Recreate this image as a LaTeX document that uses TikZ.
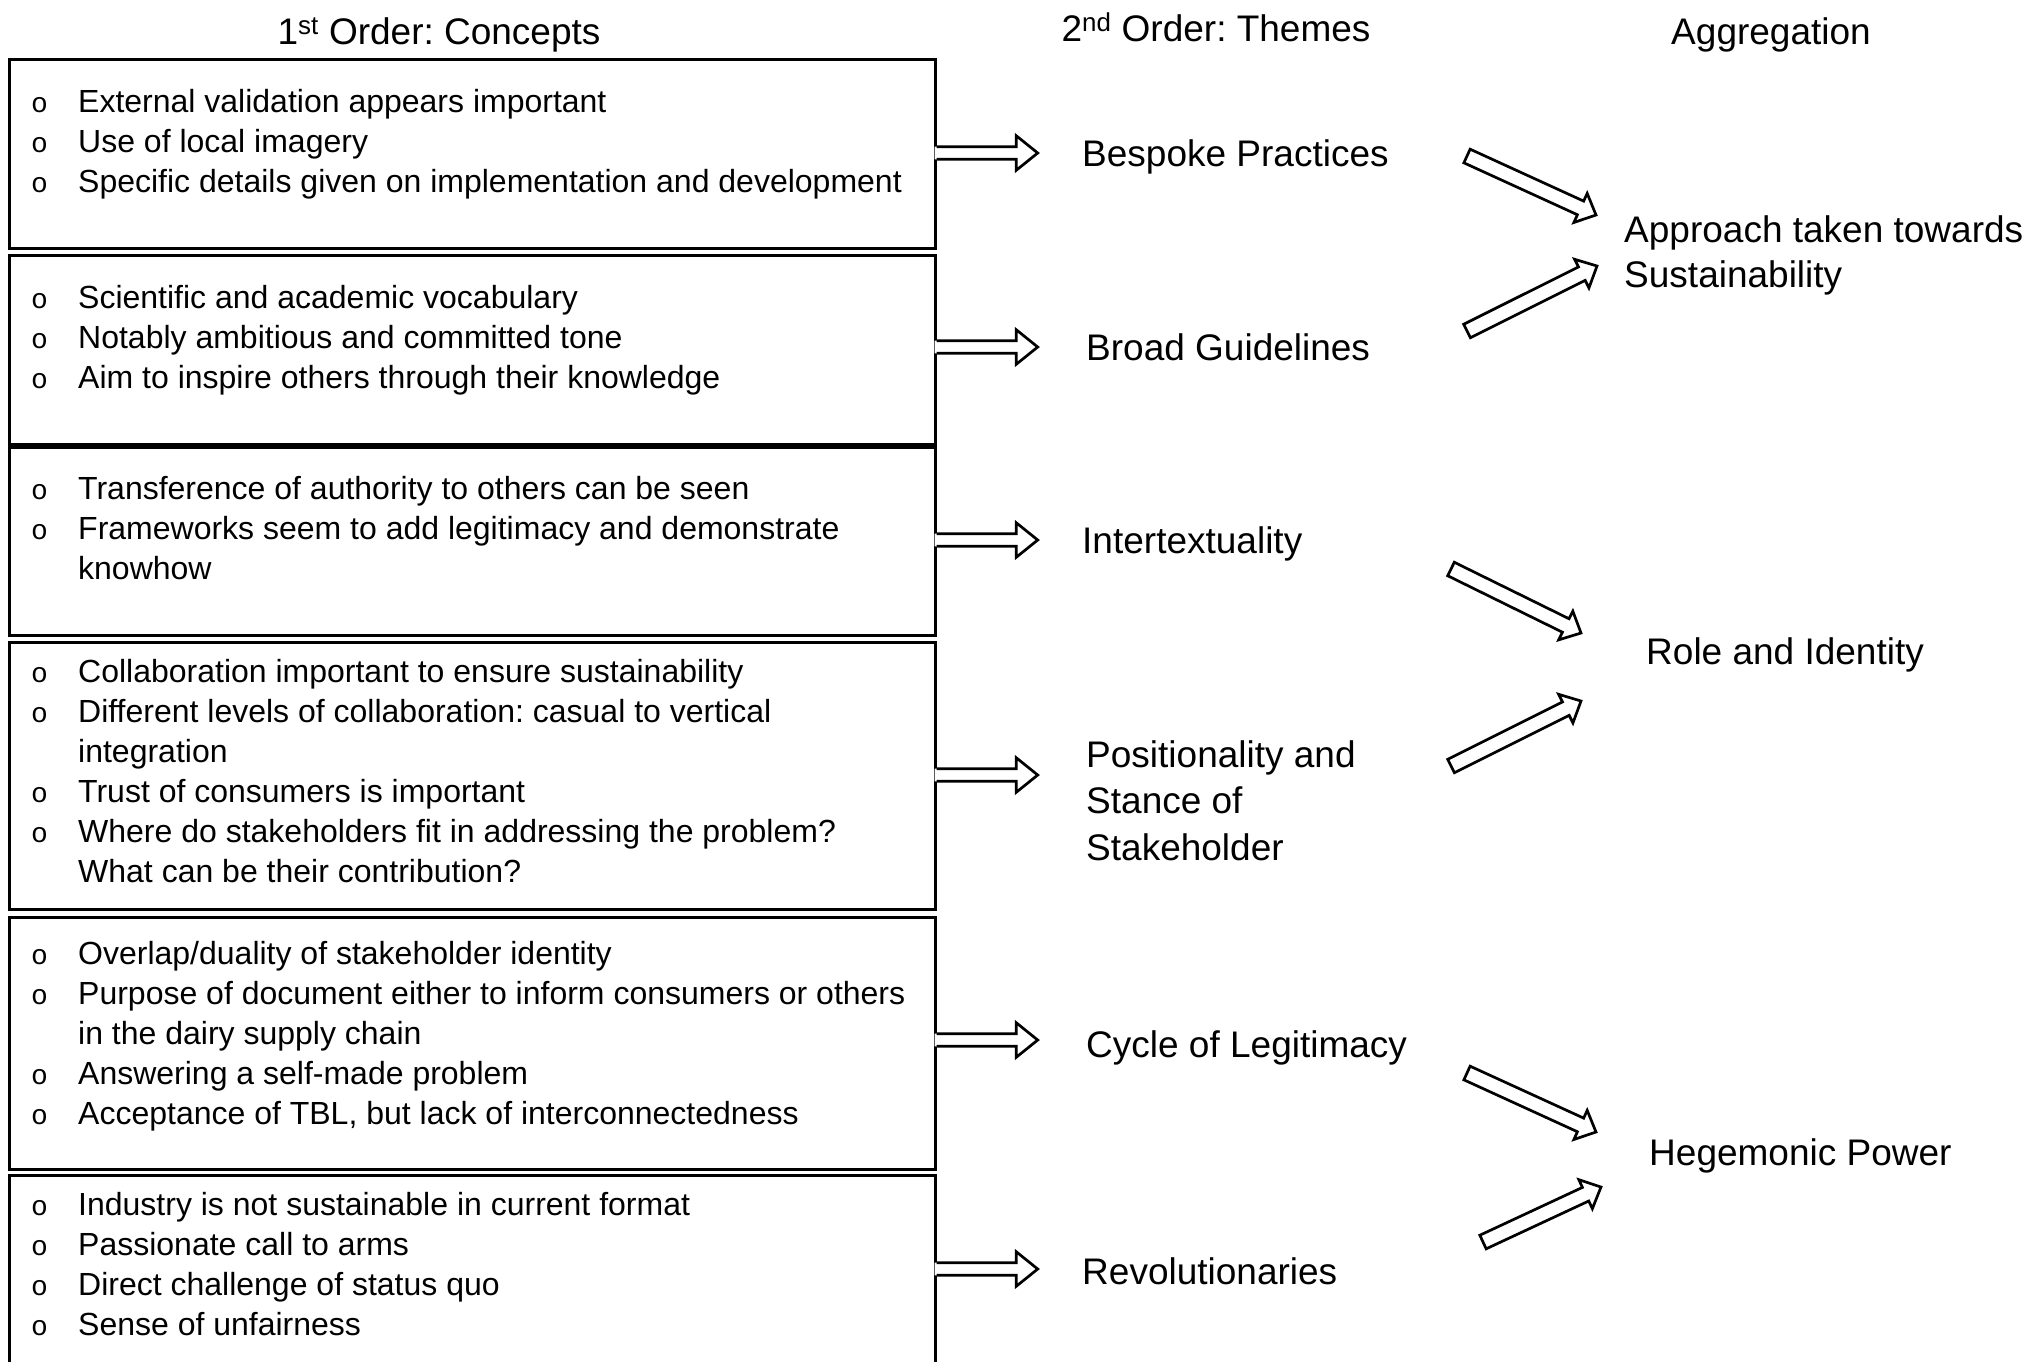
\documentclass[tikz,border=0pt]{standalone}
\usepackage{fontspec}
\setmainfont{Liberation Sans}
\newfontfamily\bulletfont{Liberation Mono}
\usetikzlibrary{calc}
\frenchspacing

% list markers: hollow bullet and continuation indent
\newcommand\bul{\makebox[48.6pt][l]{\hspace*{1.5pt}{\bulletfont\fontsize{28}{40}\selectfont o}}}
\newcommand\cont{\hspace*{48.6pt}}

% direction and length from #1 to #2
\newcommand\getdir[2]{%
  \path let \p1=($(#2)-(#1)$), \n1={atan2(\y1,\x1)}, \n2={veclen(\x1,\y1)} in
    \pgfextra{\xdef\arrang{\n1}\xdef\arrlen{\n2}};}

% outlined block arrow: tail, tip, half shaft, half head, head length
\newcommand\blockarrow[5]{%
  \getdir{#1}{#2}%
  \begin{scope}[shift={(#1)},rotate=\arrang]
    \draw[arrline] (0,#3) -- (\arrlen-#5,#3) -- (\arrlen-#5,#4) -- (\arrlen,0)
      -- (\arrlen-#5,-#4) -- (\arrlen-#5,-#3) -- (0,-#3) -- cycle;
  \end{scope}}

% block arrow whose shaft opens into the box it leaves
\newcommand\openarrow[5]{%
  \getdir{#1}{#2}%
  \begin{scope}[shift={(#1)},rotate=\arrang]
    \fill[white] (-2,#3) -- (\arrlen-#5,#3) -- (\arrlen-#5,#4) -- (\arrlen,0)
      -- (\arrlen-#5,-#4) -- (\arrlen-#5,-#3) -- (-2,-#3) -- cycle;
    \draw[arrline] (0,#3) -- (\arrlen-#5,#3) -- (\arrlen-#5,#4) -- (\arrlen,0)
      -- (\arrlen-#5,-#4) -- (\arrlen-#5,-#3) -- (0,-#3);
  \end{scope}}

\tikzset{
  arrline/.style={draw=black, fill=white, line width=2.7pt, miter limit=10},
  cbox/.style={draw=black, line width=2.7pt, rectangle, inner sep=0pt,
    anchor=north west, minimum width=926pt},
  items/.style={anchor=base west, inner sep=0pt, font=\fontsize{32}{40}\selectfont},
  theme/.style={anchor=base west, inner sep=0pt, font=\fontsize{37}{46.5}\selectfont},
  heading/.style={anchor=base, inner sep=0pt, font=\fontsize{37}{46}\selectfont},
}

\begin{document}
\begin{tikzpicture}[x=1pt, y=-1pt]
\useasboundingbox (0,0) rectangle (2029,1361);
\clip (0,0) rectangle (2029,1361);

% column headings
\node[heading] (h1) at (439,44) {1\textsuperscript{st} Order: Concepts};
\node[heading] (h2) at (1216,41) {2\textsuperscript{nd} Order: Themes};
\node[heading] (h3) at (1771,44) {Aggregation};

% first-order concept boxes
\node[cbox, minimum height=189pt] (c1) at (8,58) {};
\node[cbox, minimum height=189pt] (c2) at (8,254) {};
\node[cbox, minimum height=188pt] (c3) at (8,446) {};
\node[cbox, minimum height=267pt] (c4) at (8,641) {};
\node[cbox, minimum height=252pt] (c5) at (8,916) {};
\node[cbox, minimum height=260pt] (c6) at (8,1174) {};

\node[items] (l1) at (29.4,112) {\begin{tabular}[t]{@{}l@{}}
\bul External validation appears important\\
\bul Use of local imagery\\
\bul Specific details given on implementation and development
\end{tabular}};
\node[items] (l2) at (29.4,308) {\begin{tabular}[t]{@{}l@{}}
\bul Scientific and academic vocabulary\\
\bul Notably ambitious and committed tone\\
\bul Aim to inspire others through their knowledge
\end{tabular}};
\node[items] (l3) at (29.4,499) {\begin{tabular}[t]{@{}l@{}}
\bul Transference of authority to others can be seen\\
\bul Frameworks seem to add legitimacy and demonstrate\\
\cont knowhow
\end{tabular}};
\node[items] (l4) at (29.4,682) {\begin{tabular}[t]{@{}l@{}}
\bul Collaboration important to ensure sustainability\\
\bul Different levels of collaboration: casual to vertical\\
\cont integration\\
\bul Trust of consumers is important\\
\bul Where do stakeholders fit in addressing the problem?\\
\cont What can be their contribution?
\end{tabular}};
\node[items] (l5) at (29.4,964) {\begin{tabular}[t]{@{}l@{}}
\bul Overlap/duality of stakeholder identity\\
\bul Purpose of document either to inform consumers or others\\
\cont in the dairy supply chain\\
\bul Answering a self-made problem\\
\bul Acceptance of TBL, but lack of interconnectedness
\end{tabular}};
\node[items] (l6) at (29.4,1215) {\begin{tabular}[t]{@{}l@{}}
\bul Industry is not sustainable in current format\\
\bul Passionate call to arms\\
\bul Direct challenge of status quo\\
\bul Sense of unfairness
\end{tabular}};

% second-order themes
\node[theme] (t1) at (1082,166) {Bespoke Practices};
\node[theme] (t2) at (1086,360) {Broad Guidelines};
\node[theme] (t3) at (1082,553) {Intertextuality};
\node[theme] (t4) at (1086,767) {\begin{tabular}[t]{@{}l@{}}Positionality and\\Stance of\\Stakeholder\end{tabular}};
\node[theme] (t5) at (1086,1057) {Cycle of Legitimacy};
\node[theme] (t6) at (1082,1284) {Revolutionaries};

% aggregate dimensions
\node[theme, font=\fontsize{37}{45}\selectfont] (a1) at (1624,242) {\begin{tabular}[t]{@{}l@{}}Approach taken towards\\Sustainability\end{tabular}};
\node[theme] (a2) at (1646,664) {Role and Identity};
\node[theme] (a3) at (1649,1165) {Hegemonic Power};

% concept boxes -> themes
\path (c1.east |- 0,153) coordinate (s1) ++(101,0) coordinate (e1);
\path (c2.east |- 0,347) coordinate (s2) ++(101,0) coordinate (e2);
\path (c3.east |- 0,540) coordinate (s3) ++(101,0) coordinate (e3);
\path (c4.east |- 0,775) coordinate (s4) ++(101,0) coordinate (e4);
\path (c5.east |- 0,1040) coordinate (s5) ++(101,0) coordinate (e5);
\path (c6.east |- 0,1269) coordinate (s6) ++(101,0) coordinate (e6);
\foreach \i in {1,...,6}{\openarrow{s\i}{e\i}{6.3}{17.3}{21.5}}

% themes -> aggregate dimensions
\coordinate (d1s) at (1467,156);  \coordinate (d1e) at (1596,215);
\coordinate (d2s) at (1467,331);  \coordinate (d2e) at (1597,266);
\coordinate (d3s) at (1451,569);  \coordinate (d3e) at (1581,633);
\coordinate (d4s) at (1451,766);  \coordinate (d4e) at (1581,701);
\coordinate (d5s) at (1467,1073); \coordinate (d5e) at (1596,1132);
\coordinate (d6s) at (1483,1242); \coordinate (d6e) at (1601,1187);
\foreach \i in {1,...,6}{\blockarrow{d\i s}{d\i e}{7.5}{16}{17}}
\end{tikzpicture}
\end{document}
